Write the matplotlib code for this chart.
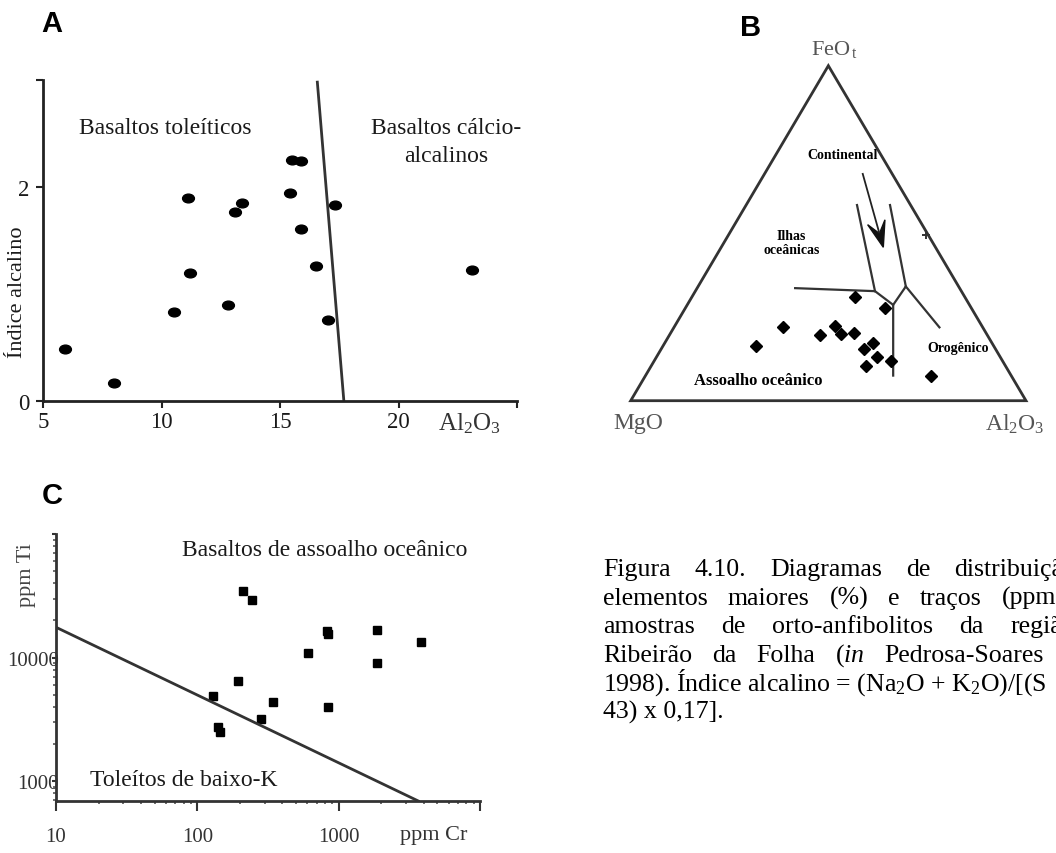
import matplotlib
matplotlib.use("Agg")
import numpy as np
import matplotlib.pyplot as plt
from matplotlib.path import Path
from matplotlib.patches import Polygon
from matplotlib.ticker import FixedLocator, LogLocator, NullFormatter, FixedFormatter

plt.rcParams['font.family'] = 'Liberation Serif'
plt.rcParams['mathtext.fontset'] = 'custom'
plt.rcParams['mathtext.rm'] = 'Liberation Serif'
plt.rcParams['mathtext.it'] = 'Liberation Serif:italic'
plt.rcParams['mathtext.bf'] = 'Liberation Serif:bold'

# --- A: Al2O3 (%) vs alkali index ---
al2o3_a = [5.9, 8.0, 10.5, 11.1, 11.2, 12.8, 13.1, 13.4, 15.4, 15.5, 15.9, 15.9, 16.5, 17.0, 17.3, 23.1]
alk_a = [0.49, 0.17, 0.83, 1.90, 1.20, 0.90, 1.77, 1.85, 1.94, 2.25, 2.24, 1.61, 1.26, 0.76, 1.83, 1.22]
divide_a_x = [16.57, 17.69]
divide_a_y = [2.98, 0.0]

# --- B: FeOt - MgO - Al2O3 ternary (%) ---
feo_b = [16.4, 21.9, 19.7, 22.2, 19.9, 20.2, 31.0, 27.7, 15.4, 17.1, 13.0, 10.4, 11.9, 7.5]
mgo_b = [60.1, 50.4, 42.3, 37.1, 36.9, 33.4, 27.8, 21.9, 33.3, 30.2, 31.1, 35.3, 28.3, 20.4]
al2o3_b = [23.5, 27.7, 38.0, 40.7, 43.2, 46.4, 41.2, 50.4, 51.3, 52.7, 55.9, 54.3, 59.8, 72.1]
extra_b = (49.5, 0.5, 50.0)  # (FeO, MgO, Al2O3) of the single cross

# field boundaries as (FeO, MgO, Al2O3) vertices
ilhas_line = [(33.6, 41.6, 24.8), (32.7, 21.85, 45.45), (28.6, 19.3, 52.1), (7.5, 29.85, 62.65)]
cont_left = [(58.4, 13.55, 28.05), (32.7, 21.85, 45.45)]
cont_right = [(58.4, 5.2, 36.4), (34.1, 13.35, 52.55), (28.6, 19.3, 52.1)]
orog_line = [(34.1, 13.35, 52.55), (21.9, 10.95, 67.15)]
arrow_from = (67.7, 7.45, 24.85)
arrow_to = (45.8, 13.2, 41.0)

# --- C: Cr vs Ti (ppm) ---
cr_c = [211, 242, 822, 845, 1858, 3800, 610, 1858, 195, 130, 341, 845, 282, 141, 145]
ti_c = [34800, 29500, 16300, 15500, 16800, 13300, 11000, 8980, 6440, 4850, 4340, 3950, 3160, 2750, 2500]
divide_c_cr = [10, 3660]
divide_c_ti = [17600, 692]

caption = [
    (["Figura", "4.10.", "Diagramas", "de", "distribuiçã"], 1063),
    (["elementos", "maiores", "(%)", "e", "traços", "(ppm"], 1056),
    (["amostras", "de", "orto-anfibolitos", "da", "regiã"], 1062),
    (["Ribeirão", "da", "Folha", "($\\mathit{in}$", "Pedrosa-Soares"], 1044),
    (["1998). Índice alcalino = (Na$_2$O + K$_2$O)/[(S"], None),
    (["43) x 0,17]."], None),
]

W, H = 1056, 854
fig = plt.figure(figsize=(W / 100, H / 100), dpi=100)
fig.patch.set_facecolor('white')


def px_rect(x0, y0, x1, y1):
    # pixel box with top-left origin -> figure-fraction rect
    return [x0 / W, 1 - y1 / H, (x1 - x0) / W, (y1 - y0) / H]


def fx(x):
    return x / W


def fy(y):
    return 1 - y / H


def tern(fe, mg, al):
    t = fe + mg + al
    return (al + fe / 2) / t, fe / t


ink = '#1a1a1a'

# panel letters
for letter, (x, y) in zip("ABC", [(52, 24), (751, 28), (52, 496)]):
    fig.text(fx(x), fy(y), letter, family='Liberation Sans', weight='bold',
             size=21, ha='center', va='center', color='black')

# ---------------- panel A ----------------
circ = Path.unit_circle()
ellipse = Path(circ.vertices * [1.35, 1.0], circ.codes)

axA = fig.add_axes(px_rect(43.3, 81, 517, 402))
axA.set_xlim(5, 25)
axA.set_ylim(0, 3)
for s in ['top', 'right']:
    axA.spines[s].set_visible(False)
for s in ['left', 'bottom']:
    axA.spines[s].set_linewidth(2)
    axA.spines[s].set_color('#222')
axA.xaxis.set_major_locator(FixedLocator([5, 10, 15, 20, 25]))
axA.xaxis.set_major_formatter(FixedFormatter(['5', '10', '15', '20', '']))
axA.yaxis.set_major_locator(FixedLocator([0, 2, 3]))
axA.yaxis.set_major_formatter(FixedFormatter(['0', '2', '']))
axA.tick_params(direction='out', length=5, width=1.5, labelsize=16.5, pad=2,
                color='#222', labelcolor=ink)
axA.tick_params(axis='y', pad=5)
axA.plot(al2o3_a, alk_a, ls='none', marker=ellipse, ms=8.5, color='black')
axA.plot(divide_a_x, divide_a_y, color='#333', lw=2)
axA.text(10.15, 2.56, 'Basaltos toleíticos', size=17, ha='center', va='center', color=ink)
axA.text(22.0, 2.56, 'Basaltos cálcio-', size=17, ha='center', va='center', color=ink)
axA.text(22.0, 2.29, 'alcalinos', size=17, ha='center', va='center', color=ink)
axA.text(23.0, -0.2, 'Al$_2$O$_3$', size=18, ha='center', va='center', color='#333')
fig.text(fx(18), fy(292), 'Índice alcalino', rotation=90, size=16,
         ha='center', va='center', color=ink)

# ---------------- panel B ----------------
axB = fig.add_axes(px_rect(630.7, 66.7, 1026, 401.7))
axB.set_xlim(0, 1)
axB.set_ylim(0, 1)
axB.axis('off')
axB.add_patch(Polygon([(0, 0), (1, 0), (0.5, 1)], closed=True, fill=False,
                      lw=2, ec='#333', clip_on=False))
for line in [ilhas_line, cont_left, cont_right, orog_line]:
    pts = [tern(*v) for v in line]
    axB.plot([p[0] for p in pts], [p[1] for p in pts], color='#333', lw=1.6,
             clip_on=False)
bx, by = zip(*[tern(f, m, a) for f, m, a in zip(feo_b, mgo_b, al2o3_b)])
axB.plot(bx, by, ls='none', marker='D', ms=6, color='black')
cx, cy = tern(*extra_b)
axB.plot([cx], [cy], ls='none', marker='+', ms=6, mew=1.4, color='#333')

# arrow: shaft plus a notched head built in pixel space
p0 = axB.transData.transform(tern(*arrow_from))
p1 = axB.transData.transform(tern(*arrow_to))
u = (p1 - p0) / np.hypot(*(p1 - p0))
n = np.array([-u[1], u[0]])
head_len, head_half = 26, 9
head_px = [p1, p1 - u * head_len + n * head_half, p1 - u * head_len * 0.55,
           p1 - u * head_len - n * head_half]
head = axB.transData.inverted().transform(head_px)
shaft_end = axB.transData.inverted().transform(p1 - u * head_len * 0.6)
axB.plot([tern(*arrow_from)[0], shaft_end[0]], [tern(*arrow_from)[1], shaft_end[1]],
         color='#222', lw=1.3)
axB.add_patch(Polygon(head, closed=True, fc='#111', ec='#111', lw=1))

axB.text(0.514, 1.05, 'FeO$_{\\,\\mathrm{t}}$', size=16, ha='center', va='center', color='#555')
axB.text(0.018, -0.064, 'MgO', size=17, ha='center', va='center', color='#555')
axB.text(0.972, -0.067, 'Al$_2$O$_3$', size=17, ha='center', va='center', color='#555')
axB.text(0.537, 0.734, 'Continental', size=10, weight='bold', ha='center', va='center')
axB.text(0.407, 0.471, 'Ilhas\noceânicas', size=10, weight='bold', ha='center',
         va='center', linespacing=1.1)
axB.text(0.829, 0.159, 'Orogênico', size=10, weight='bold', ha='center', va='center')
axB.text(0.323, 0.062, 'Assoalho oceânico', size=12, weight='bold', ha='center', va='center')

# ---------------- panel C ----------------
axC = fig.add_axes(px_rect(56, 535, 480, 802))
axC.set_xscale('log')
axC.set_yscale('log')
axC.set_xlim(10, 10000)
axC.set_ylim(692, 1e5)
for s in ['top', 'right']:
    axC.spines[s].set_visible(False)
for s in ['left', 'bottom']:
    axC.spines[s].set_linewidth(2)
    axC.spines[s].set_color('#333')
axC.xaxis.set_major_locator(FixedLocator([10, 100, 1000, 10000]))
axC.xaxis.set_major_formatter(FixedFormatter(['10', '100', '1000', '']))
axC.yaxis.set_major_locator(FixedLocator([1000, 10000, 100000]))
axC.yaxis.set_major_formatter(FixedFormatter(['1000', '10000', '']))
axC.xaxis.set_minor_locator(LogLocator(base=10, subs=range(2, 10)))
axC.yaxis.set_minor_locator(LogLocator(base=10, subs=range(2, 10)))
axC.xaxis.set_minor_formatter(NullFormatter())
axC.yaxis.set_minor_formatter(NullFormatter())
axC.tick_params(which='major', direction='out', length=7, width=1.5, color='#333',
                labelsize=15, labelcolor='#333')
axC.tick_params(which='minor', direction='out', length=2.5, width=1.2, color='#555')
axC.tick_params(axis='x', which='major', pad=12)
axC.tick_params(axis='y', which='major', length=3, pad=-5)
axC.plot(cr_c, ti_c, ls='none', marker='s', ms=6, color='black')
axC.plot(divide_c_cr, divide_c_ti, color='#333', lw=2)
axC.text(800, 75000, 'Basaltos de assoalho oceânico', size=17, ha='center',
         va='center', color=ink)
axC.text(80, 1040, 'Toleítos de baixo-K', size=17, ha='center', va='center', color=ink)
axC.text(4700, 370, 'ppm Cr', size=16, ha='center', va='center', color='#333')
fig.text(fx(27), fy(575), 'ppm Ti', rotation=90, size=16, ha='center', va='center',
         color='#444')

# ---------------- caption (justified lines) ----------------
renderer = fig.canvas.get_renderer()
x_left = 603
for i, (words, x_end) in enumerate(caption):
    base = 576 + i * 28.6
    arts = [fig.text(0, fy(base), w, size=18.6, ha='left', va='baseline',
                     color='black') for w in words]
    widths = [a.get_window_extent(renderer).width for a in arts]
    gap = 0 if x_end is None else (x_end - x_left - sum(widths)) / (len(words) - 1)
    x = x_left
    for a, w in zip(arts, widths):
        a.set_x(fx(x))
        x += w + gap

fig.savefig('out.png', dpi=100, facecolor='white')
